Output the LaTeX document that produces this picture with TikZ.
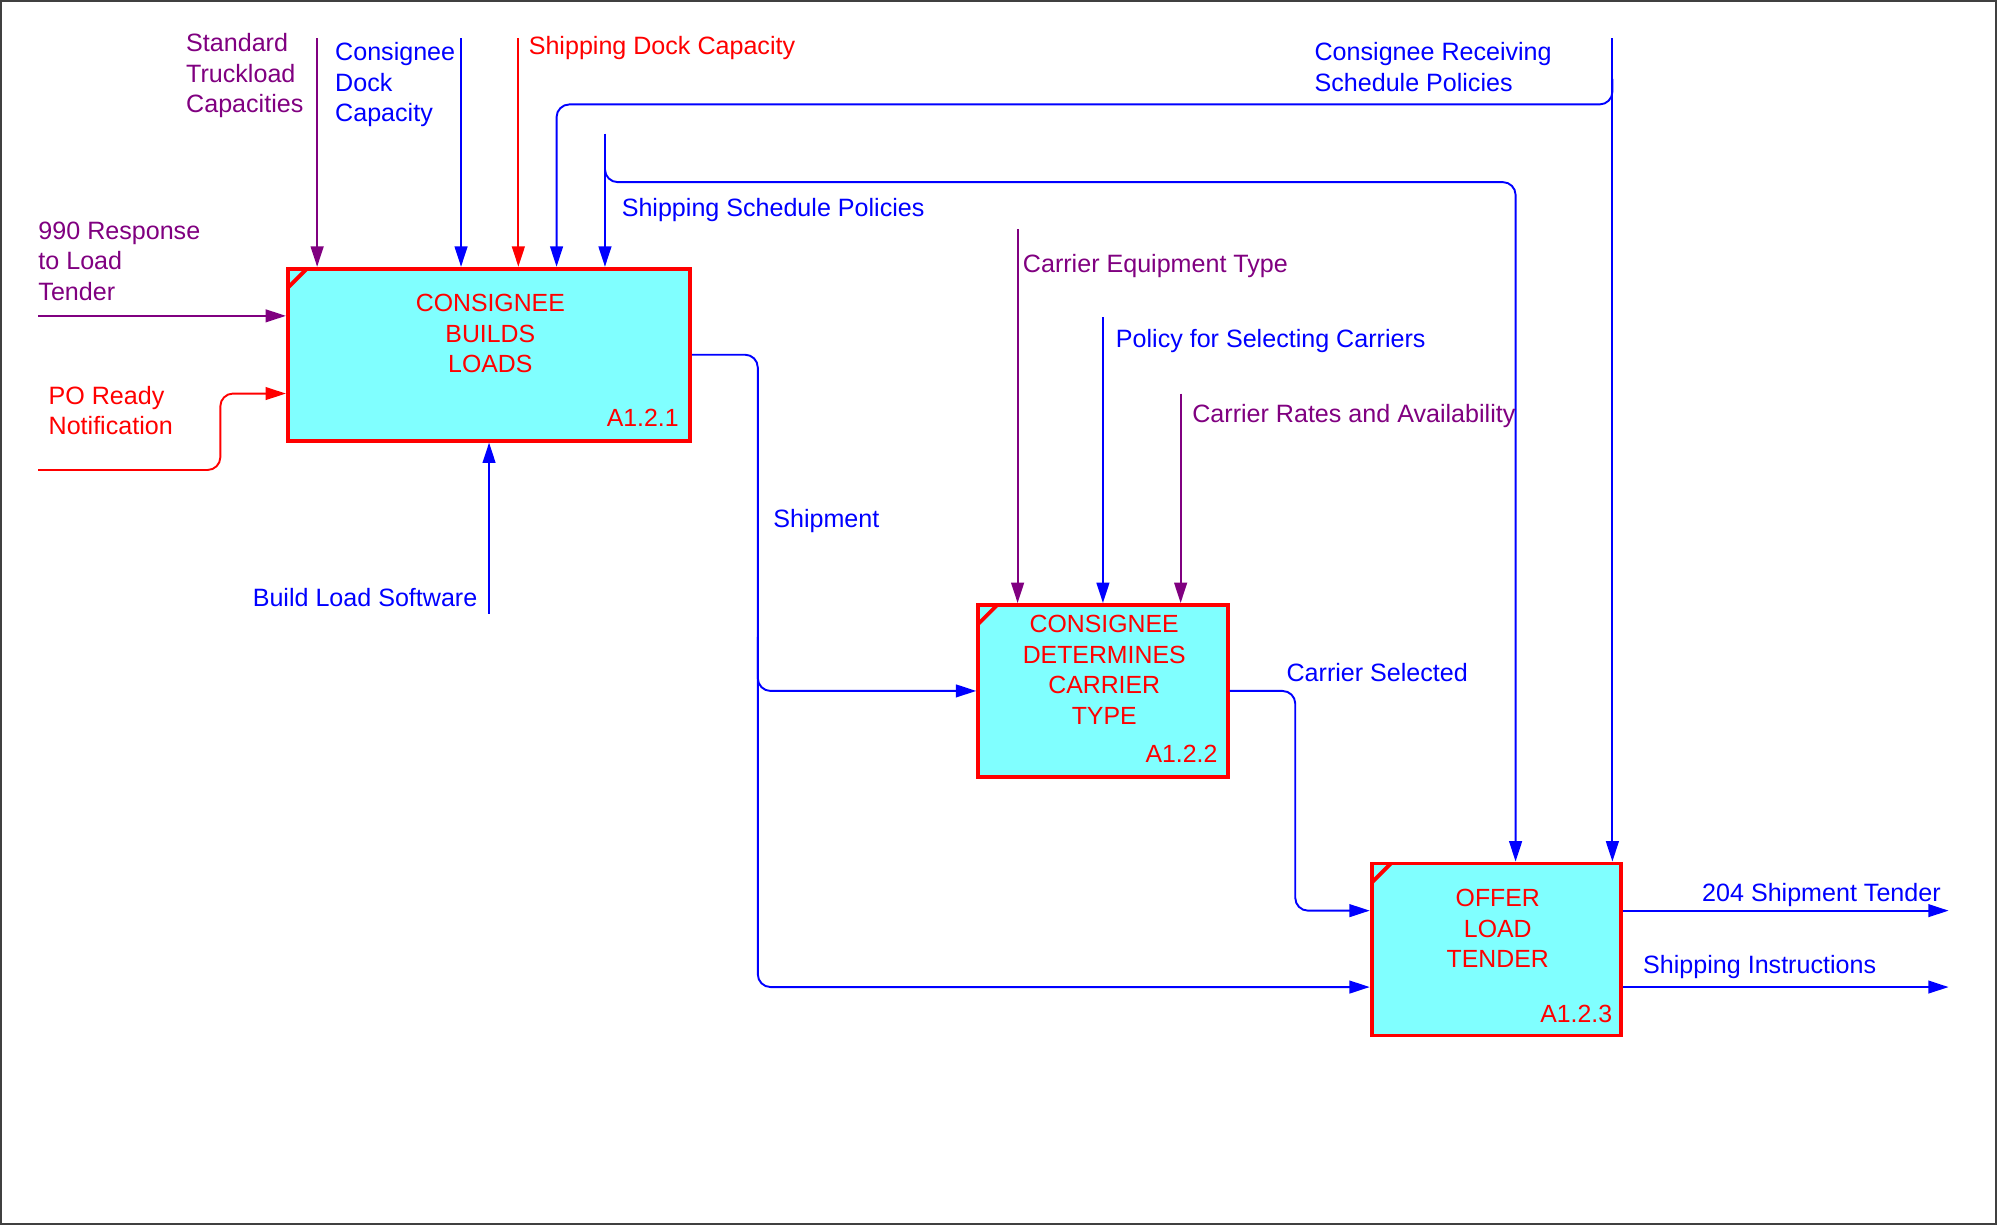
\documentclass[tikz,border=0pt]{standalone}
\usepackage{fontspec}
\setmainfont{Liberation Sans}
\usetikzlibrary{arrows.meta,calc}
\definecolor{idefpurple}{RGB}{128,0,128}
\definecolor{idefcyan}{RGB}{128,255,255}
\begin{document}
\begin{tikzpicture}[x=1pt,y=-1pt,
  lbl/.style={font=\fontsize{19.7}{24}\selectfont, inner sep=0pt, align=left},
  boxtxt/.style={font=\fontsize{19.5}{24}\selectfont, inner sep=0pt, align=center, text=red},
  box/.style={draw=red, fill=idefcyan, line width=3pt, minimum width=#1, minimum height=135pt, inner sep=0pt},
  corner/.style={draw=red, line width=3pt},
  arr/.style={line width=1.5pt, rounded corners=10pt, -{Triangle[length=16pt,width=10pt]}},
  link/.style={line width=1.5pt, rounded corners=10pt}]
\useasboundingbox (0,0) rectangle (1568,962);
\draw[line width=1.5pt, black!75] (0.75,0.75) rectangle (1567.25,961.25);

% boxes
\node[box=316pt] (b1) at (384,278.5) {};
\node[box=196pt] (b2) at (866,542.5) {};
\node[box=196pt] (b3) at (1175,745.5) {};
\draw[corner] ($(b1.north west)+(1.5,16.5)$) -- ($(b1.north west)+(16.5,1.5)$);
\draw[corner] ($(b2.north west)+(1.5,16.5)$) -- ($(b2.north west)+(16.5,1.5)$);
\draw[corner] ($(b3.north west)+(1.5,16.5)$) -- ($(b3.north west)+(16.5,1.5)$);

\node[boxtxt, anchor=north] (t1) at (385,231) {CONSIGNEE\\BUILDS\\LOADS};
\node[boxtxt, anchor=north] (t2) at (867,483) {CONSIGNEE\\DETERMINES\\CARRIER\\TYPE};
\node[boxtxt, anchor=north] (t3) at (1176,698) {OFFER\\LOAD\\TENDER};
\node[boxtxt, anchor=base east] (n1) at (533,335) {A1.2.1};
\node[boxtxt, anchor=base east] (n2) at (956,599) {A1.2.2};
\node[boxtxt, anchor=base east] (n3) at (1266,803) {A1.2.3};

% free ends
\coordinate (sTC) at (249,30);
\coordinate (cDC) at (362,30);
\coordinate (sDC) at (407,30);
\coordinate (cRS) at (1266,30);
\coordinate (cRSj) at (1266,62);
\coordinate (cRSd) at (437,82);
\coordinate (sSP) at (475,105);
\coordinate (sSPj) at (475,123);
\coordinate (sSPd) at (1190,143);
\coordinate (r990) at (30,248);
\coordinate (po) at (30,369);
\coordinate (poR) at (173,309);
\coordinate (bls) at (384,482);
\coordinate (shJ) at (595,500);
\coordinate (shX) at (595,775);
\coordinate (cET) at (799,180);
\coordinate (pSC) at (866,249);
\coordinate (cRA) at (927,309);
\coordinate (csX) at (1017,715);
\coordinate (st) at (1530,715);
\coordinate (si) at (1530,775);

% box 1 controls
\draw[arr, idefpurple] (sTC) -- (sTC |- b1.north);
\draw[arr, blue] (cDC) -- (cDC |- b1.north);
\draw[arr, red] (sDC) -- (sDC |- b1.north);
\draw[arr, blue] (cRS) -- (cRS |- b3.north);
\draw[arr, blue] (cRSj) -- (cRSj |- cRSd) -- (cRSd) -- (cRSd |- b1.north);
\draw[arr, blue] (sSP) -- (sSP |- b1.north);
\draw[arr, blue] (sSPj) -- (sSPj |- sSPd) -- (sSPd) -- (sSPd |- b3.north);
% box 1 inputs
\draw[arr, idefpurple] (r990) -- (r990 -| b1.west);
\draw[arr, red] (po) -- (poR |- po) -- (poR) -- (poR -| b1.west);
% mechanism
\draw[arr, blue] (bls) -- (bls |- b1.south);
% shipment
\draw[arr, blue] (b1.east) -- (b1.east -| shX) -- (shX |- b2.west) -- (b2.west);
\draw[arr, blue] (shJ) -- (shX) -- (shX -| b3.west);
% box 2 controls
\draw[arr, idefpurple] (cET) -- (cET |- b2.north);
\draw[arr, blue] (pSC) -- (pSC |- b2.north);
\draw[arr, idefpurple] (cRA) -- (cRA |- b2.north);
% box 2 output
\draw[arr, blue] (b2.east) -- (b2.east -| csX) -- (csX) -- (csX -| b3.west);
% box 3 outputs
\draw[arr, blue] (st -| b3.east) -- (st);
\draw[arr, blue] (si -| b3.east) -- (si);

% labels
\node[lbl, text=idefpurple, anchor=north west] (lSTC) at (146,26) {Standard\\Truckload\\Capacities};
\node[lbl, text=blue, anchor=north west] (lCDC) at (263,33) {Consignee\\Dock\\Capacity};
\node[lbl, text=red, anchor=base west] (lSDC) at (415,43) {Shipping Dock Capacity};
\node[lbl, text=blue, anchor=north west] (lCRS) at (1032,33) {Consignee Receiving\\Schedule Policies};
\node[lbl, text=blue, anchor=base west] (lSSP) at (488,170) {Shipping Schedule Policies};
\node[lbl, text=idefpurple, anchor=north west] (l990) at (30,174) {990 Response\\to Load\\Tender};
\node[lbl, text=red, anchor=north west] (lPO) at (38,303) {PO Ready\\Notification};
\node[lbl, text=blue, anchor=base east] (lBLS) at (375,476) {Build Load Software};
\node[lbl, text=blue, anchor=base west] (lSh) at (607,414) {Shipment};
\node[lbl, text=idefpurple, anchor=base west] (lCET) at (803,214) {Carrier Equipment Type};
\node[lbl, text=blue, anchor=base west] (lPSC) at (876,273) {Policy for Selecting Carriers};
\node[lbl, text=idefpurple, anchor=base west] (lCRA) at (936,332) {Carrier Rates and Availability};
\node[lbl, text=blue, anchor=base west] (lCS) at (1010,535) {Carrier Selected};
\node[lbl, text=blue, anchor=base east] (lST) at (1524,708) {204 Shipment Tender};
\node[lbl, text=blue, anchor=base west] (lSI) at (1290,764) {Shipping Instructions};
\end{tikzpicture}
\end{document}
